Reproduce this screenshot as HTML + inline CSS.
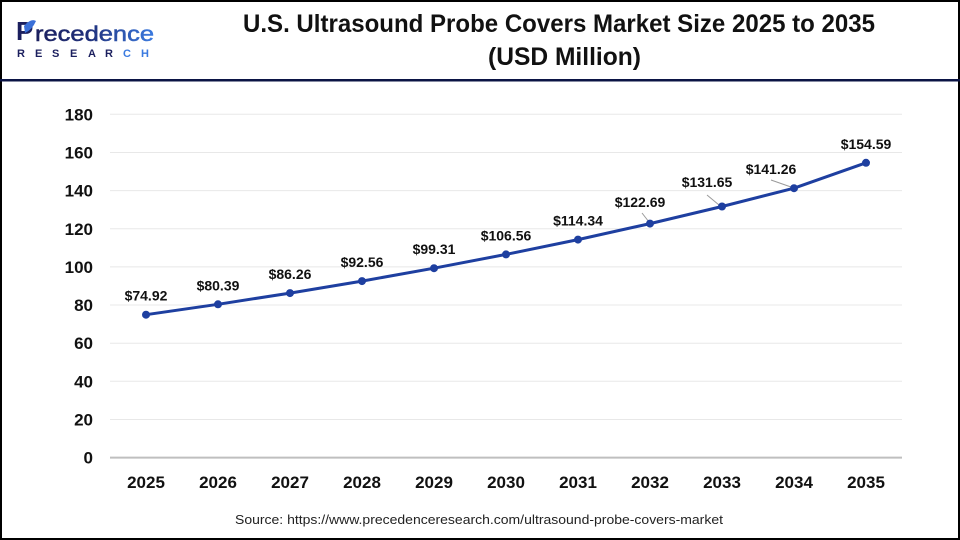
<!DOCTYPE html>
<html>
<head>
<meta charset="utf-8">
<style>
html,body{margin:0;padding:0;background:#fff;}
svg{display:block;}
text{font-family:"Liberation Sans",Arial,sans-serif;}
</style>
</head>
<body>
<svg width="960" height="540" viewBox="0 0 960 540" xmlns="http://www.w3.org/2000/svg">
  <defs>
    <linearGradient id="lg" x1="0" y1="0" x2="1" y2="0">
      <stop offset="0" stop-color="#1b1f5e"/>
      <stop offset="0.45" stop-color="#1f2f7a"/>
      <stop offset="1" stop-color="#3a7ae0"/>
    </linearGradient>
  </defs>
  <rect x="0" y="0" width="960" height="540" fill="#fff"/>
  <!-- border -->
  <rect x="1" y="1" width="958" height="538" fill="none" stroke="#000" stroke-width="2"/>
  <!-- header separator -->
  <rect x="0" y="79" width="960" height="2.5" fill="#0b1445"/>

  <!-- logo -->
  <text x="16" y="40" font-size="26" font-weight="bold" fill="#1b1f5e">P</text>
  <path d="M24 26 Q31 18 36 21 Q32 30 25 33 Z" fill="#3a6fd8"/>
  <text x="35" y="41" font-size="21" fill="url(#lg)" stroke="url(#lg)" stroke-width="0.5" textLength="119" lengthAdjust="spacingAndGlyphs">recedence</text>
  <text y="57" font-size="11" font-weight="bold" fill="#1b1f5e"><tspan x="17">R</tspan><tspan x="35">E</tspan><tspan x="52">S</tspan><tspan x="70">E</tspan><tspan x="88">A</tspan><tspan x="105">R</tspan><tspan x="123" fill="#3a7ae0">C</tspan><tspan x="141" fill="#3a7ae0">H</tspan></text>

  <!-- title -->
  <text x="243" y="32" font-size="25" font-weight="bold" fill="#111" textLength="632" lengthAdjust="spacingAndGlyphs">U.S. Ultrasound Probe Covers Market Size 2025 to 2035</text>
  <text x="488" y="65" font-size="25" font-weight="bold" fill="#111" textLength="153" lengthAdjust="spacingAndGlyphs">(USD Million)</text>

  <!-- gridlines -->
  <g stroke="#e8e8e8" stroke-width="1">
    <line x1="110" x2="902" y1="419.5" y2="419.5"/>
    <line x1="110" x2="902" y1="381.3" y2="381.3"/>
    <line x1="110" x2="902" y1="343.2" y2="343.2"/>
    <line x1="110" x2="902" y1="305.0" y2="305.0"/>
    <line x1="110" x2="902" y1="266.9" y2="266.9"/>
    <line x1="110" x2="902" y1="228.8" y2="228.8"/>
    <line x1="110" x2="902" y1="190.6" y2="190.6"/>
    <line x1="110" x2="902" y1="152.5" y2="152.5"/>
    <line x1="110" x2="902" y1="114.3" y2="114.3"/>
  </g>
  <line x1="110" x2="902" y1="457.6" y2="457.6" stroke="#bfbfbf" stroke-width="2"/>

  <!-- y labels -->
  <g font-size="17" font-weight="bold" fill="#111" text-anchor="end">
    <text x="93" y="463.6">0</text>
    <text x="93" y="425.5">20</text>
    <text x="93" y="387.3">40</text>
    <text x="93" y="349.2">60</text>
    <text x="93" y="311.0">80</text>
    <text x="93" y="272.9">100</text>
    <text x="93" y="234.8">120</text>
    <text x="93" y="196.6">140</text>
    <text x="93" y="158.5">160</text>
    <text x="93" y="120.3">180</text>
  </g>

  <!-- x labels -->
  <g font-size="17" font-weight="bold" fill="#111" text-anchor="middle">
    <text x="146" y="488">2025</text>
    <text x="218" y="488">2026</text>
    <text x="290" y="488">2027</text>
    <text x="362" y="488">2028</text>
    <text x="434" y="488">2029</text>
    <text x="506" y="488">2030</text>
    <text x="578" y="488">2031</text>
    <text x="650" y="488">2032</text>
    <text x="722" y="488">2033</text>
    <text x="794" y="488">2034</text>
    <text x="866" y="488">2035</text>
  </g>

  <!-- leader lines -->
  <g stroke="#9a9a9a" stroke-width="1">
    <line x1="642" y1="213" x2="649" y2="222"/>
    <line x1="707" y1="195" x2="719" y2="205"/>
    <line x1="771" y1="180" x2="791" y2="187"/>
  </g>

  <!-- series -->
  <polyline fill="none" stroke="#1e3fa0" stroke-width="3" stroke-linejoin="round"
    points="146,314.7 218,304.3 290,293.1 362,281.1 434,268.2 506,254.4 578,239.6 650,223.6 722,206.5 794,188.2 866,162.8"/>
  <g fill="#1e3fa0">
    <circle cx="146" cy="314.7" r="4"/>
    <circle cx="218" cy="304.3" r="4"/>
    <circle cx="290" cy="293.1" r="4"/>
    <circle cx="362" cy="281.1" r="4"/>
    <circle cx="434" cy="268.2" r="4"/>
    <circle cx="506" cy="254.4" r="4"/>
    <circle cx="578" cy="239.6" r="4"/>
    <circle cx="650" cy="223.6" r="4"/>
    <circle cx="722" cy="206.5" r="4"/>
    <circle cx="794" cy="188.2" r="4"/>
    <circle cx="866" cy="162.8" r="4"/>
  </g>

  <!-- data labels -->
  <g font-size="14" font-weight="bold" fill="#111" text-anchor="middle">
    <text x="146" y="300.7">$74.92</text>
    <text x="218" y="290.3">$80.39</text>
    <text x="290" y="279.1">$86.26</text>
    <text x="362" y="267.1">$92.56</text>
    <text x="434" y="254.2">$99.31</text>
    <text x="506" y="240.4">$106.56</text>
    <text x="578" y="225.6">$114.34</text>
    <text x="640" y="207">$122.69</text>
    <text x="707" y="187">$131.65</text>
    <text x="771" y="174">$141.26</text>
    <text x="866" y="148.8">$154.59</text>
  </g>

  <!-- source -->
  <text x="235" y="524" font-size="12.5" fill="#222" textLength="488" lengthAdjust="spacingAndGlyphs">Source: https://www.precedenceresearch.com/ultrasound-probe-covers-market</text>
</svg>
</body>
</html>
